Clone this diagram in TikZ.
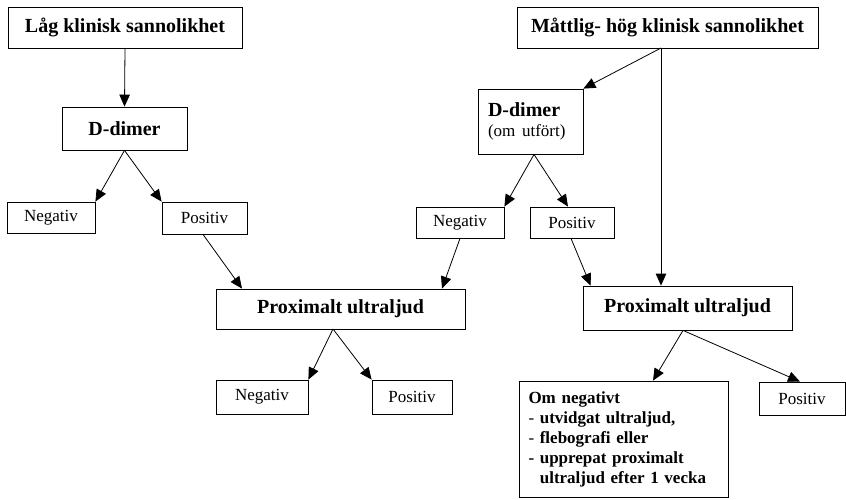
\documentclass[tikz,border=0pt]{standalone}
\usepackage{fontspec}
\setmainfont{Liberation Serif}
\usetikzlibrary{arrows.meta}
\begin{document}
\begin{tikzpicture}[x=1pt,y=-1pt,
  box/.style={draw=black,line width=0.8pt,inner sep=0pt,anchor=center},
  big/.style={font=\fontsize{20}{24}\selectfont\bfseries},
  small/.style={font=\fontsize{17}{20}\selectfont},
  arr/.style={line width=0.8pt,-{Triangle[length=12pt,width=10.5pt]}}]
\useasboundingbox (0,0) rectangle (846,499);
% top row
\node[box,big,minimum width=234pt,minimum height=41pt] (low) at (125,27.5) {Låg klinisk sannolikhet};
\node[box,big,minimum width=301pt,minimum height=41pt] (high) at (667.5,27.5) {Måttlig- hög klinisk sannolikhet};
% D-dimer tests
\node[box,big,minimum width=125pt,minimum height=43pt] (dd1) at (124.5,128.5) {D-dimer};
\node[box,minimum width=105pt,minimum height=65pt,align=left,text width=85pt,
  font=\fontsize{20}{20}\selectfont] (dd2) at (530.5,121.5)
  {\textbf{D-dimer}\\{\fontsize{17}{20}\selectfont (om utfört)}};
% D-dimer results
\node[box,small,minimum width=88pt,minimum height=31pt] (neg1) at (51,217.5) {Negativ};
\node[box,small,minimum width=85pt,minimum height=32pt] (pos1) at (204.5,218) {Positiv};
\node[box,small,minimum width=88pt,minimum height=31pt] (neg2) at (460,222.5) {Negativ};
\node[box,small,minimum width=84pt,minimum height=31pt] (pos2) at (572,222.5) {Positiv};
% ultrasound
\node[box,big,minimum width=249pt,minimum height=40pt] (pu1) at (340.5,309) {Proximalt ultraljud};
\node[box,big,minimum width=209pt,minimum height=44pt] (pu2) at (687.5,308) {Proximalt ultraljud};
% ultrasound results
\node[box,small,minimum width=92pt,minimum height=34pt] (neg3) at (262,397) {Negativ};
\node[box,small,minimum width=80pt,minimum height=34pt] (pos3) at (412,397) {Positiv};
\node[box,minimum width=209pt,minimum height=116pt,text width=190pt,align=left,
  font=\fontsize{17}{20}\selectfont\bfseries] (om) at (623.5,439)
  {Om negativt\\
   \textmd{-} utvidgat ultraljud,\\
   \textmd{-} flebografi eller\\
   - upprepat proximalt\\
   \phantom{- }ultraljud efter 1 vecka};
\node[box,small,minimum width=86pt,minimum height=33pt] (pos4) at (802,398.5) {Positiv};
% connectors
\coordinate (htap) at (661,48);
\coordinate (putap) at (333,329);
\draw[arr] (low.south) -- (dd1.north);
\draw[arr] (dd1.south) -- (neg1.north east);
\draw[arr] (dd1.south) -- (pos1.north west);
\draw[arr] (htap) -- (dd2.north east);
\draw[arr] (htap) -- (htap |- pu2.north);
\draw[arr] ([xshift=3.5pt]dd2.south) -- (neg2.north east);
\draw[arr] ([xshift=3.5pt]dd2.south) -- ([xshift=-4pt]pos2.north);
\draw[arr] ([xshift=-1.5pt]pos1.south) -- ([xshift=-98.5pt]pu1.north);
\draw[arr] (neg2.south) -- ([xshift=101.5pt]pu1.north);
\draw[arr] ([xshift=-1pt]pos2.south) -- ([xshift=8pt]pu2.north west);
\draw[arr] (putap) -- (neg3.north east);
\draw[arr] (putap) -- (pos3.north west);
\draw[arr] ([xshift=-4.5pt]pu2.south) -- ([xshift=29.5pt]om.north);
\draw[arr] ([xshift=-4.5pt]pu2.south) -- ([xshift=-2pt]pos4.north);
\end{tikzpicture}
\end{document}
